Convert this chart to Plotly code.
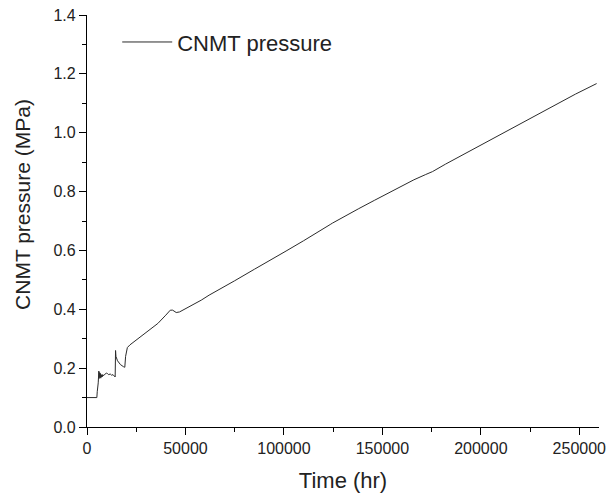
import plotly.graph_objects as go

# CNMT pressure history
time_hr = [
    0, 2000, 5000, 5200, 5400, 5700, 6000, 6200, 6400, 6600, 6800, 7000, 7200,
    7400, 7600, 7800, 8000, 8300, 8700, 9200, 9800, 10300, 11000, 11800, 12500,
    13200, 13800, 14300, 14500, 14700, 15500, 17000, 18500, 19200, 19600, 20000,
    20500, 21800, 26000, 31800, 36000, 40000, 42300, 43500, 45300, 47000, 52000,
    58000, 62000, 67300, 75000, 85000, 93000, 101100, 110000, 118000, 122200,
    123500, 124700, 130000, 138000, 145900, 152000, 158600, 166000, 172000,
    175500, 182000, 190000, 197000, 204200, 209300, 218000, 228000, 238000,
    248000, 258800,
]
pressure_mpa = [
    0.100, 0.100, 0.100, 0.120, 0.130, 0.150, 0.190, 0.165, 0.185, 0.170, 0.182,
    0.166, 0.178, 0.170, 0.177, 0.171, 0.178, 0.174, 0.177, 0.180, 0.183, 0.182,
    0.178, 0.180, 0.176, 0.178, 0.172, 0.170, 0.260, 0.240, 0.225, 0.212, 0.205,
    0.203, 0.240, 0.262, 0.270, 0.279, 0.300, 0.329, 0.352, 0.380, 0.397, 0.397,
    0.389, 0.391, 0.408, 0.431, 0.448, 0.467, 0.497, 0.536, 0.566, 0.598, 0.633,
    0.664, 0.681, 0.688, 0.693, 0.713, 0.742, 0.770, 0.792, 0.815, 0.840, 0.858,
    0.868, 0.893, 0.922, 0.948, 0.975, 0.993, 1.024, 1.060, 1.096, 1.131, 1.167,
]

x_ticks = [0, 50000, 100000, 150000, 200000, 250000]
y_ticks = [0.0, 0.2, 0.4, 0.6, 0.8, 1.0, 1.2, 1.4]

font_family = "Liberation Sans, Arial, sans-serif"
text_color = "#222"

fig = go.Figure()
fig.add_trace(go.Scatter(
    x=time_hr, y=pressure_mpa, mode="lines", name="CNMT pressure",
    line=dict(color="#2b2b2b", width=1),
))

axis_common = dict(
    showline=True, linecolor="black", linewidth=1.2,
    ticks="outside", ticklen=7, tickwidth=1.2, tickcolor="black",
    showgrid=False, zeroline=False, mirror=False, automargin=False,
    tickfont=dict(family=font_family, size=16, color=text_color),
)
minor_common = dict(ticks="outside", ticklen=4, tickwidth=1.2,
                    tickcolor="black", showgrid=False)

fig.update_xaxes(
    **axis_common,
    range=[0, 260000], tickvals=x_ticks,
    ticktext=[str(v) for v in x_ticks],
    minor=dict(**minor_common, dtick=25000, tick0=0),
    title=dict(text="Time (hr)",
               font=dict(family=font_family, size=22, color=text_color),
               standoff=16),
)
fig.update_yaxes(
    **axis_common,
    range=[0, 1.4], tickvals=y_ticks,
    ticktext=[f"{v:.1f}" for v in y_ticks],
    minor=dict(**minor_common, dtick=0.1, tick0=0),
)

# y-axis title, placed a little above the plot's vertical centre
fig.add_annotation(
    text="CNMT pressure (MPa)", textangle=-90,
    xref="paper", yref="paper", x=-0.125, y=0.539,
    xanchor="center", yanchor="middle", showarrow=False,
    font=dict(family=font_family, size=21, color=text_color),
)

fig.update_layout(
    width=609, height=493,
    margin=dict(l=87, r=10, t=15, b=66),
    paper_bgcolor="white", plot_bgcolor="white",
    showlegend=True,
    legend=dict(
        x=0.059, y=0.985, xanchor="left", yanchor="top",
        itemwidth=50,
        bgcolor="rgba(0,0,0,0)", borderwidth=0,
        font=dict(family=font_family, size=22, color=text_color),
    ),
)

fig.write_html("out.html")
